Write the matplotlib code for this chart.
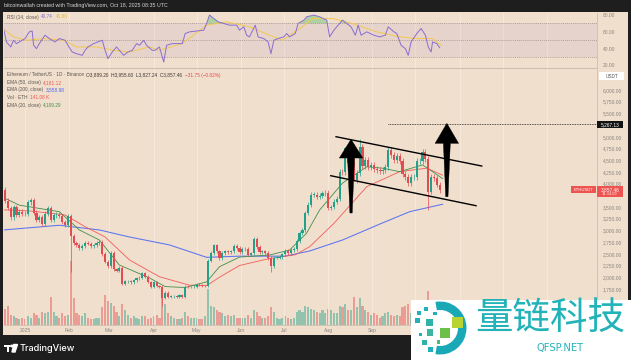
import numpy as np
import pandas as pd
import matplotlib
matplotlib.use("Agg")
import matplotlib.pyplot as plt
from matplotlib.patches import Rectangle, Polygon, Wedge, Circle

# ---- data (2-day candles, ETH/USDT) ----
dates = pd.date_range("2024-12-18", "2025-10-18", freq="2D")
closes = [
    3630, 3480, 3280, 3490, 3330, 3400, 3360,
    3350, 3600, 3640, 3380, 3220, 3280, 3140, 3360, 3470, 3220, 3320, 3340, 3310, 3180, 3120, 3300,
    2870, 2730, 2690, 2630, 2660, 2740, 2720, 2670, 2680, 2740, 2760, 2500, 2330, 2240,
    2520, 2170, 2140, 2200, 1860, 1910, 1910, 1890, 1930, 1980, 1990, 2080, 2010, 1900, 1800,
    1900, 1810, 1800, 1560, 1670, 1570, 1590, 1590, 1580, 1610, 1580, 1800, 1790, 1790, 1800,
    1840, 1830, 1810, 1810, 2350, 2520, 2680, 2550, 2400, 2520, 2550, 2530, 2550, 2660, 2630, 2530,
    2600, 2610, 2480, 2510, 2820, 2640, 2530, 2550, 2520, 2410, 2230, 2420, 2420, 2430, 2490,
    2570, 2510, 2580, 2600, 2770, 2940, 3010, 3370, 3550, 3760, 3760, 3720, 3740, 3790, 3810,
    3480, 3500, 3610, 3680, 4250, 4240, 4760, 4440, 4470, 4080, 4230, 4780, 4380, 4500, 4350, 4390,
    4320, 4300, 4270, 4300, 4350, 4720, 4610, 4500, 4590, 4480, 4200, 4150, 4020, 4140, 4150,
    4480, 4490, 4680, 4520, 3830, 4150, 4120, 3980, 3857.46,
]
first_open = 3870
low_wicks = {32: 2120, 96: 1385, 172: 2110, 230: 4060, 282: 3435}
high_wicks = {224: 4790, 234: 4950}

# volume, millions of ETH
volume = [
    1.1, 1.3, 0.7, 0.6, 0.5, 0.4, 0.5, 0.4,
    0.6, 0.5, 0.8, 0.7, 0.5, 0.9, 0.8, 0.9, 1.9, 0.9, 0.6, 0.5, 0.8, 0.6, 0.7,
    4.3, 1.8, 0.8, 0.7, 0.6, 0.8, 0.5, 0.4, 0.4, 0.5, 0.5, 1.2, 2.0, 1.6,
    1.5, 1.3, 0.9, 0.6, 1.4, 1.0, 0.7, 0.5, 0.6, 0.5, 0.4, 0.6, 0.6, 0.4, 0.5,
    0.6, 0.7, 0.5, 1.8, 1.4, 0.8, 0.6, 0.5, 0.4, 0.4, 0.5, 0.9, 0.6, 0.5, 0.5,
    0.5, 0.4, 0.4, 0.6, 2.4, 1.3, 1.2, 1.0, 0.9, 0.8, 0.6, 0.7, 0.6, 0.7, 0.5, 0.5,
    0.5, 0.5, 0.7, 0.5, 1.0, 0.9, 0.6, 0.5, 0.5, 0.6, 1.2, 0.9, 0.5, 0.4, 0.5,
    0.6, 0.5, 0.4, 0.5, 0.9, 1.0, 0.9, 1.3, 1.2, 1.1, 1.0, 0.9, 0.8, 1.0, 0.8,
    1.1, 1.0, 0.8, 0.8, 1.3, 1.2, 1.4, 1.0, 1.0, 1.9, 1.2, 1.8, 1.3, 1.0, 0.9, 0.7,
    0.8, 0.7, 0.5, 0.6, 0.8, 0.9, 0.7, 0.6, 0.7, 0.6, 1.2, 1.3, 1.4, 0.8, 0.7,
    1.0, 0.8, 0.9, 0.8, 2.3, 1.1, 0.9, 1.0, 0.3,
]

# EMA lines (day offset from 2025-01-01, price)
ema20_days = [-15, -4, 24, 38, 52, 66, 87, 98, 112, 127, 136, 150, 171, 185, 197, 206, 222, 239, 250, 262, 278, 292]
ema20_vals = [3700, 3540, 3400, 3010, 2795, 2260, 1985, 1800, 1780, 1900, 2225, 2430, 2475, 2580, 2945, 3435, 4010, 4360, 4330, 4255, 4400, 4109]
ema50_days = [-15, 4, 28, 42, 56, 73, 94, 115, 127, 136, 150, 171, 189, 199, 216, 239, 262, 281, 292]
ema50_vals = [3440, 3415, 3330, 3080, 2860, 2370, 2010, 1830, 1820, 2000, 2250, 2400, 2480, 2650, 3150, 3935, 4255, 4330, 4181]
ema200_days = [-15, 24, 52, 73, 101, 127, 150, 182, 199, 222, 250, 269, 292]
ema200_vals = [3010, 3110, 3010, 2860, 2690, 2425, 2450, 2450, 2560, 2795, 3160, 3400, 3559]

# RSI(14) and its moving average
rsi_days = [-15, -13, -10, -8, -6, -4, 0, 3, 5, 6, 8, 10, 14, 17, 21, 24, 28, 30, 33, 36, 40, 42, 44, 48,
            51, 54, 56, 58, 61, 64, 66, 69, 72, 75, 78, 80, 83, 85, 89, 91, 94, 97, 99, 103, 106, 110,
            112, 115, 120, 125, 127, 129, 132, 135, 139, 143, 148, 150, 153, 155, 157, 161, 163, 167,
            170, 172, 174, 177, 181, 183, 185, 189, 191, 195, 197, 202, 206, 211, 213, 216, 219, 222,
            225, 228, 231, 233, 235, 239, 244, 248, 252, 254, 258, 260, 263, 266, 268, 270, 274, 277,
            280, 282, 284, 285, 288, 290]
rsi_vals = [64, 48, 42, 50, 46, 48, 52, 60, 61, 44, 40, 46, 56, 52, 48, 52, 50, 44, 36, 34, 32, 38, 42, 46,
            48, 50, 38, 28, 36, 42, 38, 32, 36, 38, 46, 44, 50, 44, 38, 38, 42, 24, 44, 46, 46, 46,
            58, 60, 61, 62, 70, 80, 76, 72, 70, 68, 68, 62, 66, 56, 54, 68, 54, 52,
            48, 34, 50, 52, 54, 58, 54, 58, 70, 74, 78, 80, 78, 74, 54, 62, 68, 74,
            70, 66, 56, 68, 56, 60, 56, 54, 56, 66, 60, 58, 44, 40, 32, 48, 58, 64,
            56, 42, 36, 48, 46, 41]
rsi_ma_days = [-17, -8, 1, 13, 27, 36, 50, 62, 73, 87, 94, 110, 127, 141, 157, 171, 180, 194, 201, 215, 229, 246, 262, 274, 285, 291]
rsi_ma_vals = [66, 54, 50, 52, 50, 42, 42, 38, 36, 42, 38, 46, 68, 72, 66, 56, 50, 66, 76, 76, 70, 60, 54, 52, 52, 44]

# chart drawings
channel_upper = [(217.5, 5002), (319.4, 4376)]
channel_lower = [(213.8, 4169), (315.4, 3528)]
target_price = 5267.13
target_start = 253.6
arrows = [
    dict(day=228, tip=4947, base=4547, bottom=3372),
    dict(day=295, tip=5288, base=4861, bottom=3720),
]

# ---- style ----
W, H = 631, 360
BG = "#f1dfcd"
DARK = "#1e1e1e"
UP, DOWN = "#22a08a", "#e34b52"
AXC = "#8a8580"
FONT = "Liberation Sans"


def fx(px):
    return px / W


def fy(py):
    return 1 - py / H


def box(x, y, w, h, color, z=5, ec="none"):
    fig.add_artist(Rectangle((fx(x), fy(y + h)), w / W, h / H, transform=fig.transFigure,
                             facecolor=color, edgecolor=ec, lw=0.4, zorder=z))


fig = plt.figure(figsize=(6.31, 3.6), dpi=100, facecolor=DARK)
box(3, 12, 625, 323, BG, z=0)

days = (dates - pd.Timestamp("2025-01-01")).days.values.astype(float)
closes = np.array(closes, dtype=float)
opens = np.r_[first_open, closes[:-1]]
up = closes >= opens
highs = np.maximum(opens, closes) * 1.015
lows = np.minimum(opens, closes) * 0.985
for d, v in low_wicks.items():
    lows[days == d] = v
for d, v in high_wicks.items():
    highs[days == d] = v
colors = np.where(up, UP, DOWN)

XMIN, XMAX = -14.7, 400
months = pd.date_range("2025-01-01", "2026-01-01", freq="MS")
month_days = (months - pd.Timestamp("2025-01-01")).days.values
label_months = months[months <= pd.Timestamp("2025-10-01")]
label_days = (label_months - pd.Timestamp("2025-01-01")).days.values
month_labels = [m.strftime("%b") if m.month != 1 else str(m.year) for m in label_months]

# ---- RSI panel ----
ax_rsi = fig.add_axes([fx(4), fy(68), (597 - 4) / W, (68 - 13) / H])
ax_rsi.set_facecolor("none")
ax_rsi.set_xlim(XMIN, XMAX)
ax_rsi.set_ylim(16.9, 82.5)
ax_rsi.axhspan(30, 70, color="#8e6fc4", alpha=0.1, lw=0)
for lvl in (70, 50, 30):
    ax_rsi.axhline(lvl, color="#9a8f88", lw=0.5, ls=(0, (1.5, 1.5)))
for d in month_days:
    ax_rsi.axvline(d, color="#f7ebe0", lw=0.6, zorder=0)
rsi = np.array(rsi_vals, dtype=float)
ax_rsi.fill_between(rsi_days, rsi, 70, where=rsi >= 70, interpolate=True, color="#7cc47f", alpha=0.55, lw=0)
ax_rsi.plot(rsi_ma_days, rsi_ma_vals, color="#f2c94c", lw=0.7)
ax_rsi.plot(rsi_days, rsi_vals, color="#8a6dd0", lw=0.7)
ax_rsi.set_xticks([])
ax_rsi.yaxis.tick_right()
ax_rsi.set_yticks([20, 40, 60, 80])
ax_rsi.set_yticklabels([f"{v:.2f}" for v in (20, 40, 60, 80)])
ax_rsi.tick_params(axis="y", length=0, pad=4, labelsize=3.5, labelcolor=AXC)
for lab in ax_rsi.get_yticklabels():
    lab.set_fontfamily(FONT)
for s in ("top", "left"):
    ax_rsi.spines[s].set_visible(False)
ax_rsi.spines["right"].set_color("#cdbfb1")
ax_rsi.spines["bottom"].set_color("#cdbfb1")
ax_rsi.spines["right"].set_linewidth(0.6)
ax_rsi.spines["bottom"].set_linewidth(0.8)

# ---- volume (behind candles) ----
pos = [fx(4), fy(325), (597 - 4) / W, (325 - 69) / H]
ax_vol = fig.add_axes(pos, zorder=1)
ax_vol.set_facecolor("none")
ax_vol.set_xlim(XMIN, XMAX)
ax_vol.set_ylim(0, 17.07)
ax_vol.bar(days, volume, width=1.5, color=colors, alpha=0.45, lw=0)
ax_vol.axis("off")

# ---- main price panel ----
ax = fig.add_axes(pos, zorder=2)
ax.set_facecolor("none")
ax.set_xlim(XMIN, XMAX)
ax.set_ylim(979, 6449)
for d in month_days:
    ax.axvline(d, color="#f7ebe0", lw=0.6, zorder=0)

ax.plot(ema200_days, ema200_vals, color="#5a74f2", lw=0.75, zorder=2)
ax.plot(ema50_days, ema50_vals, color="#ef5b5b", lw=0.6, zorder=2)
ax.plot(ema20_days, ema20_vals, color="#3f8f4a", lw=0.6, zorder=2)

ax.vlines(days, lows, highs, colors=colors, lw=0.5, zorder=3)
body_lo = np.minimum(opens, closes)
body_h = np.maximum(np.abs(closes - opens), 10)
ax.bar(days, body_h, bottom=body_lo, width=1.5, color=colors, lw=0, zorder=4)

for (x0, y0), (x1, y1) in (channel_upper, channel_lower):
    ax.plot([x0, x1], [y0, y1], color="black", lw=1.0, zorder=6)
ax.plot([target_start, XMAX], [target_price, target_price], color="#222", lw=0.6,
        ls=(0, (1, 1)), zorder=6)

for a in arrows:
    d = a["day"]
    pts = [(d, a["tip"]), (d + 8.2, a["base"]), (d + 2.4, a["base"]), (d + 0.8, a["bottom"]),
           (d - 0.8, a["bottom"]), (d - 2.4, a["base"]), (d - 8.2, a["base"])]
    ax.add_patch(Polygon(pts, closed=True, facecolor="black", edgecolor="black", lw=0.3, zorder=7))

price_ticks = [p for p in range(1750, 6001, 250) if p not in (3750, 5250)]
ax.yaxis.tick_right()
ax.set_yticks(price_ticks)
ax.set_yticklabels([f"{p:,.2f}" for p in price_ticks])
ax.set_xticks(label_days)
ax.set_xticklabels(month_labels)
ax.tick_params(axis="y", length=0, pad=4, labelsize=3.5, labelcolor=AXC)
ax.tick_params(axis="x", length=0, pad=2.5, labelsize=3.6, labelcolor=AXC)
for lab in ax.get_yticklabels() + ax.get_xticklabels():
    lab.set_fontfamily(FONT)
for s in ("top", "left"):
    ax.spines[s].set_visible(False)
ax.spines["right"].set_color("#cdbfb1")
ax.spines["bottom"].set_color("#cdbfb1")
ax.spines["right"].set_linewidth(0.6)
ax.spines["bottom"].set_linewidth(0.6)

# ---- right axis tags ----
def price_py(p):
    return H - ax.transData.transform((0, p))[1]


box(599, 72, 25, 8, "white", z=8)
fig.text(fx(611.5), fy(76), "USDT", fontsize=3.4, color="#555", ha="center", va="center",
         family=FONT, zorder=9)

py = price_py(target_price)
box(597, py - 3.5, 26, 7, "#131313", z=8)
fig.text(fx(610), fy(py), f"{target_price:,.2f}", fontsize=3.4, color="white", ha="center",
         va="center", family=FONT, zorder=9)

py = price_py(closes[-1])
box(597, py - 4, 26, 11, "#ef5350", z=8)
box(571, py - 4, 25, 7, "#ef5350", z=8)
fig.text(fx(583.5), fy(py - 0.5), "ETHUSDT", fontsize=3.0, color="white", ha="center",
         va="center", family=FONT, zorder=9)
fig.text(fx(610), fy(py - 0.5), f"{closes[-1]:,.2f}", fontsize=3.4, color="white", ha="center",
         va="center", family=FONT, zorder=9)
fig.text(fx(610), fy(py + 4), "14:34:09", fontsize=2.9, color="#ffe5e5", ha="center",
         va="center", family=FONT, zorder=9)

# ---- legends ----
renderer = fig.canvas.get_renderer()


def seg_text(x_px, y_px, parts, size=3.4):
    x = x_px
    for s, c in parts:
        t = fig.text(fx(x), fy(y_px), s, color=c, fontsize=size, ha="left", va="center",
                     family=FONT, zorder=9)
        x += t.get_window_extent(renderer).width + 2.5


GREY = "#5c5650"
seg_text(7, 17, [("RSI (14, close)", GREY), ("40.74", "#8a6dd0"), ("41.60", "#e0b53a")])
seg_text(7, 75, [("Ethereum / TetherUS · 1D · Binance", GREY),
                 ("O3,889.20  H3,955.60  L3,827.24  C3,857.46", "#3a3530"),
                 ("−31.75 (−0.82%)", "#e34b52")])
seg_text(7, 82.5, [("EMA (50, close)", GREY), ("4,181.12", "#ef5350")])
seg_text(7, 90, [("EMA (200, close)", GREY), ("3,558.98", "#4a63f0")])
seg_text(7, 97.5, [("Vol · ETH", GREY), ("141.08 K", "#ef5350")])
seg_text(7, 105, [("EMA (20, close)", GREY), ("4,109.29", "#3f8f4a")])

# ---- header / footer ----
fig.text(fx(4), fy(6), "bitcoinwallah created with TradingView.com, Oct 18, 2025 08:35 UTC",
         fontsize=3.8, color="#d8d8d8", ha="left", va="center", family=FONT)
box(4, 344.5, 6, 2.5, "white", z=5)
box(6.5, 344.5, 2.5, 7.5, "white", z=5)
fig.add_artist(Circle((fx(12), fy(346)), 1.3 / W, transform=fig.transFigure, color="white"))
fig.add_artist(Polygon([(fx(13.8), fy(344.5)), (fx(17.5), fy(344.5)), (fx(15), fy(352)),
                        (fx(12), fy(352))], closed=True, transform=fig.transFigure, color="white"))
fig.text(fx(19.5), fy(348.3), "TradingView", fontsize=6.6, color="white", ha="left",
         va="center", family="Inter", weight="medium")

# ---- watermark ----
ax_w = fig.add_axes([fx(411), fy(360), 220 / W, 60 / H], zorder=20)
ax_w.set_xlim(411, 631)
ax_w.set_ylim(360, 300)
ax_w.axis("off")
ax_w.add_patch(Rectangle((411, 300), 220, 60, facecolor="white", edgecolor="none"))
ax_w.add_patch(Wedge((440, 328), 26.5, -100, 100, width=8.5, facecolor="#19a9b6", edgecolor="none"))
squares = [
    (416.5, 311, 4, "#23b0b8"), (424, 306.5, 4, "#23b0b8"), (415, 318, 5, "#23b0b8"),
    (426, 319, 7, "#2fb3a6"), (433, 311.5, 3.5, "#23b0b8"), (440, 328, 10, "#6cc04a"),
    (452, 316.5, 11, "#b8d432"), (426.5, 329, 6.5, "#3bb5a0"), (421.5, 340, 5, "#2fb3a6"),
    (428, 346.5, 5, "#23b0b8"), (436.5, 340, 3.5, "#4dba7a"), (419, 333, 3, "#23b0b8"),
]
for x, y, s, c in squares:
    ax_w.add_patch(Rectangle((x, y), s, s, facecolor=c, edgecolor="none"))
ax_w.text(550, 318, "量链科技", fontsize=27, color="#22b3b8", ha="center", va="center",
          family=["Noto Sans CJK SC", "DejaVu Sans"])
ax_w.text(560, 348.5, "QFSP.NET", fontsize=7.2, color="#22b3b8", ha="center", va="center",
          family="DejaVu Sans")

fig.savefig("out.png", dpi=100, facecolor=DARK)
